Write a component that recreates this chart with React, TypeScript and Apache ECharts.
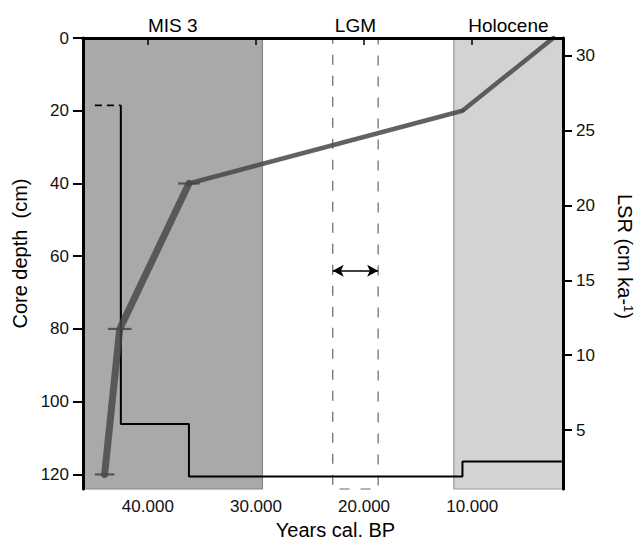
import React, { useEffect, useRef } from "react";
import * as echarts from "echarts";

// ---- data ----
const depthTicks = [0, 20, 40, 60, 80, 100, 120];
const lsrTicks = [5, 10, 15, 20, 25, 30];
const yearTicks = [10000, 20000, 30000, 40000];

// age-depth model tie points
const sampleDepth = [0, 20, 40, 80, 120];
const sampleAge = [2500, 10900, 36200, 42600, 44000];
const sampleAgeErr = [200, 200, 1000, 1100, 900];

// linear sedimentation rate steps (years cal BP boundaries, cm/ka)
const lsrBounds = [44900, 42500, 36200, 10900, 1700];
const lsrRates = [26.7, 5.4, 1.9, 2.9];

// periods
const periodNames = ["MIS 3", "LGM", "Holocene"];
const periodStart = [46000, 22900, 11700];
const periodEnd = [29400, 18700, 1600];
const lgmArrowDepth = 64;

const FONT = "'Liberation Sans', Arial, sans-serif";

export default function App() {
  const ref = useRef<HTMLDivElement>(null);
  useEffect(() => {
    if (!ref.current) return;
    const chart = echarts.init(ref.current, undefined, { renderer: "svg" });

    const pts = sampleAge.map((a, i) => [a, sampleDepth[i]]);
    const errData = sampleAge.map((a, i) => [a, sampleDepth[i], sampleAgeErr[i]]);

    const dashed = [
      [lsrBounds[0], lsrRates[0]],
      [lsrBounds[1], lsrRates[0]],
    ];
    const solid: number[][] = [[lsrBounds[1], lsrRates[0]]];
    for (let i = 1; i < lsrRates.length; i++) {
      solid.push([lsrBounds[i], lsrRates[i]]);
      solid.push([lsrBounds[i + 1], lsrRates[i]]);
    }

    const labelStyle = {
      show: true,
      position: "top",
      distance: 2,
      fontSize: 19,
      color: "#000",
      fontFamily: FONT,
    };

    const option: any = {
      animation: false,
      textStyle: { fontFamily: FONT },
      grid: { left: 83, width: 485, top: 38, height: 454, containLabel: false },
      xAxis: [
        {
          type: "value",
          inverse: true,
          min: 1600,
          max: 46000,
          name: "Years cal. BP",
          nameLocation: "middle",
          nameGap: 31,
          nameTextStyle: { fontSize: 20, color: "#000", fontFamily: FONT, padding: [0, 0, 0, 25] },
          axisLine: { show: true, lineStyle: { color: "#000", width: 3 } },
          axisTick: { show: true, length: 7, lineStyle: { color: "#000", width: 1.5 }, customValues: yearTicks },
          axisLabel: {
            customValues: yearTicks,
            formatter: (v: number) => (v / 1000).toFixed(3),
            fontSize: 17,
            color: "#111",
            margin: 9,
            fontFamily: FONT,
          },
          splitLine: { show: false },
          z: 10,
        },
        {
          type: "value",
          position: "top",
          inverse: true,
          min: 1600,
          max: 46000,
          axisLine: { show: true, lineStyle: { color: "#000", width: 3 } },
          axisTick: { show: false },
          axisLabel: { show: false },
          splitLine: { show: false },
          z: 10,
        },
      ],
      yAxis: [
        {
          type: "value",
          inverse: true,
          min: 0,
          max: 124,
          position: "left",
          name: "Core depth  (cm)",
          nameLocation: "middle",
          nameRotate: 90,
          nameGap: 47,
          nameTextStyle: { fontSize: 20, color: "#000", fontFamily: FONT, padding: [0, 0, 0, 20] },
          axisLine: { show: true, lineStyle: { color: "#000", width: 3 } },
          axisTick: { show: true, length: 10, lineStyle: { color: "#000", width: 2 }, customValues: depthTicks },
          axisLabel: { customValues: depthTicks, fontSize: 17, color: "#111", margin: 14, fontFamily: FONT },
          splitLine: { show: false },
          z: 10,
        },
        {
          type: "value",
          min: 1.06,
          max: 31.2,
          position: "right",
          name: "LSR (cm ka-{sup|1})",
          nameLocation: "middle",
          nameRotate: -90,
          nameGap: 52,
          nameTextStyle: {
            fontSize: 20,
            color: "#000",
            fontFamily: FONT,
            padding: [0, 14, 0, 0],
            rich: { sup: { fontSize: 13, verticalAlign: "top", fontFamily: FONT, color: "#000" } },
          },
          axisLine: { show: true, lineStyle: { color: "#000", width: 3 } },
          axisTick: { show: true, length: 9, lineStyle: { color: "#000", width: 2 }, customValues: lsrTicks },
          axisLabel: { customValues: lsrTicks, fontSize: 17, color: "#111", margin: 13, fontFamily: FONT },
          splitLine: { show: false },
          z: 10,
        },
      ],
      series: [
        {
          type: "line",
          data: [],
          xAxisIndex: 0,
          yAxisIndex: 0,
          z: 1,
          silent: true,
          markArea: {
            silent: true,
            data: [
              [
                {
                  name: periodNames[0],
                  xAxis: periodStart[0],
                  itemStyle: { color: "#a9a9a9", borderColor: "#888", borderWidth: 1.2 },
                  label: labelStyle,
                },
                { xAxis: periodEnd[0] },
              ],
              [
                {
                  name: periodNames[2],
                  xAxis: periodStart[2],
                  itemStyle: { color: "#d3d3d3", borderColor: "#999", borderWidth: 1.2 },
                  label: labelStyle,
                },
                { xAxis: periodEnd[2] },
              ],
            ],
          },
        },
        {
          type: "line",
          data: [],
          xAxisIndex: 0,
          yAxisIndex: 0,
          z: 2,
          silent: true,
          markArea: {
            silent: true,
            data: [
              [
                {
                  name: periodNames[1],
                  xAxis: periodStart[1],
                  itemStyle: {
                    color: "rgba(0,0,0,0)",
                    borderColor: "#666",
                    borderWidth: 1.2,
                    borderType: [10, 11],
                  },
                  label: labelStyle,
                },
                { xAxis: periodEnd[1] },
              ],
            ],
          },
          markLine: {
            silent: true,
            symbol: ["arrow", "arrow"],
            symbolSize: [9, 11],
            label: { show: false },
            lineStyle: { color: "#000", width: 1.5, type: "solid" },
            data: [
              [
                { coord: [periodStart[1], lgmArrowDepth] },
                { coord: [periodEnd[1], lgmArrowDepth] },
              ],
            ],
          },
        },
        {
          type: "line",
          xAxisIndex: 0,
          yAxisIndex: 1,
          data: dashed,
          showSymbol: false,
          lineStyle: { color: "#000", width: 1.8, type: [7, 5] },
          z: 4,
        },
        {
          type: "line",
          xAxisIndex: 0,
          yAxisIndex: 1,
          data: solid,
          showSymbol: false,
          lineStyle: { color: "#000", width: 2 },
          z: 4,
        },
        {
          type: "line",
          xAxisIndex: 0,
          yAxisIndex: 0,
          data: pts.slice(2),
          showSymbol: false,
          lineStyle: { color: "rgba(70,70,70,0.82)", width: 7, cap: "round", join: "round" },
          z: 5,
        },
        {
          type: "line",
          xAxisIndex: 0,
          yAxisIndex: 0,
          data: pts.slice(0, 3),
          showSymbol: false,
          lineStyle: { color: "rgba(70,70,70,0.85)", width: 4.5, cap: "round", join: "round" },
          z: 5,
        },
        {
          type: "custom",
          xAxisIndex: 0,
          yAxisIndex: 0,
          data: errData,
          z: 6,
          renderItem: (params: any, api: any) => {
            const a = api.value(0);
            const d = api.value(1);
            const e = api.value(2);
            const p1 = api.coord([a - e, d]);
            const p2 = api.coord([a + e, d]);
            return {
              type: "line",
              shape: { x1: p1[0], y1: p1[1], x2: p2[0], y2: p2[1] },
              style: { stroke: "rgba(70,70,70,0.85)", lineWidth: 2.2 },
            };
          },
        },
      ],
    };

    chart.setOption(option);
    return () => chart.dispose();
  }, []);

  return (
    <div
      ref={ref}
      style={{ position: "absolute", left: 0, top: 0, width: 643, height: 545, background: "#fff" }}
    />
  );
}
